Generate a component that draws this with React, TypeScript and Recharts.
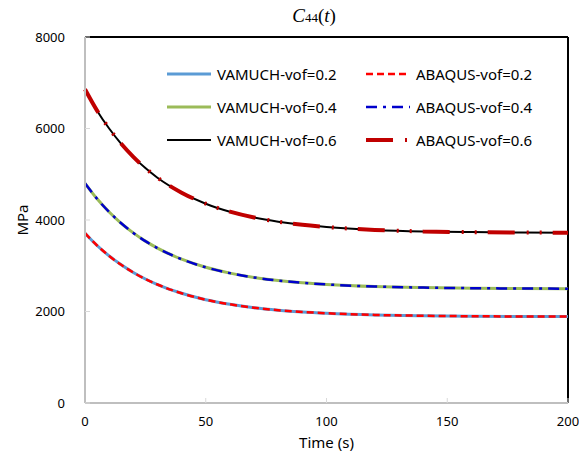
import React from 'react';
import { LineChart, Line, XAxis, YAxis, ReferenceLine, Label } from 'recharts';

const times = [0, 5, 10, 15, 20, 25, 30, 40, 50, 60, 70, 80, 90, 100, 120, 140, 160, 180, 200];
const vamuch02 = [3712, 3443, 3215, 3020, 2853, 2711, 2590, 2398, 2258, 2157, 2082, 2029, 1990, 1962, 1925, 1907, 1897, 1891, 1888];
const abaqus02 = [3712, 3443, 3215, 3020, 2853, 2711, 2590, 2398, 2258, 2157, 2082, 2029, 1990, 1962, 1925, 1907, 1897, 1891, 1888];
const vamuch04 = [4802, 4463, 4175, 3928, 3718, 3538, 3385, 3143, 2966, 2839, 2744, 2677, 2627, 2592, 2546, 2523, 2510, 2503, 2499];
const abaqus04 = [4802, 4463, 4175, 3928, 3718, 3538, 3385, 3143, 2966, 2839, 2744, 2677, 2627, 2592, 2546, 2523, 2510, 2503, 2499];
const vamuch06 = [6857, 6390, 6000, 5665, 5380, 5135, 4925, 4598, 4356, 4182, 4055, 3963, 3895, 3847, 3784, 3750, 3735, 3727, 3722];
const abaqus06 = [6857, 6390, 6000, 5665, 5380, 5135, 4925, 4598, 4356, 4182, 4055, 3963, 3895, 3847, 3784, 3750, 3735, 3727, 3722];

const xTicks = [0, 50, 100, 150, 200];
const yTicks = [0, 2000, 4000, 6000, 8000];

const data = times.map((t, i) => ({
  t,
  v02: vamuch02[i],
  a02: abaqus02[i],
  v04: vamuch04[i],
  a04: abaqus04[i],
  v06: vamuch06[i],
  a06: abaqus06[i],
}));

const series = [
  { key: 'v02', name: 'VAMUCH-vof=0.2', color: '#5B9BD5', width: 3, dash: undefined as string | undefined },
  { key: 'v04', name: 'VAMUCH-vof=0.4', color: '#9BBB59', width: 3, dash: undefined },
  { key: 'v06', name: 'VAMUCH-vof=0.6', color: '#000000', width: 2, dash: undefined },
  { key: 'a02', name: 'ABAQUS-vof=0.2', color: '#FF0000', width: 2.5, dash: '7 4' },
  { key: 'a04', name: 'ABAQUS-vof=0.4', color: '#0000CC', width: 2.5, dash: '11 6 3 6' },
  { key: 'a06', name: 'ABAQUS-vof=0.6', color: '#C00000', width: 4, dash: '27 12 2 11 2 11' },
];

const FONT = '"Noto Sans", "Open Sans", sans-serif';

const legendRows = [
  ['v02', 'a02'],
  ['v04', 'a04'],
  ['v06', 'a06'],
];

function LegendItem({ k, left, top }: { k: string; left: number; top: number }) {
  const s = series.find((x) => x.key === k)!;
  return (
    <div style={{ position: 'absolute', left, top, height: 20, display: 'flex', alignItems: 'center', whiteSpace: 'nowrap' }}>
      <svg width={46} height={20} style={{ display: 'block' }}>
        <line x1={1} y1={10} x2={45} y2={10} stroke={s.color} strokeWidth={s.width} strokeDasharray={s.dash} />
      </svg>
      <span style={{ marginLeft: 5, fontFamily: FONT, fontSize: 15, color: '#000', lineHeight: '20px' }}>{s.name}</span>
    </div>
  );
}

export default function App() {
  return (
    <div style={{ position: 'absolute', left: 0, top: 0, width: 579, height: 454, background: '#fff' }}>
      <LineChart width={579} height={454} data={data} margin={{ top: 37, right: 11, left: 0, bottom: 0 }}>
        <XAxis
          dataKey="t"
          type="number"
          domain={[0, 200]}
          ticks={xTicks}
          height={51}
          axisLine={{ stroke: '#BFBFBF', strokeWidth: 2 }}
          tickLine={{ stroke: '#D9D9D9', strokeWidth: 1 }}
          tickSize={-5}
          tickMargin={19}
          tick={{ fill: '#000', fontSize: 13, fontFamily: FONT }}
          interval={0}
        >
          <Label value="Time (s)" position="insideBottom" offset={6} style={{ fill: '#000', fontSize: 15, fontFamily: FONT }} />
        </XAxis>
        <YAxis
          type="number"
          domain={[0, 8000]}
          ticks={yTicks}
          width={85}
          axisLine={{ stroke: '#BFBFBF', strokeWidth: 2 }}
          tickLine={{ stroke: '#D9D9D9', strokeWidth: 1 }}
          tickSize={-5}
          tickMargin={25}
          tick={{ fill: '#000', fontSize: 13, fontFamily: FONT }}
          interval={0}
        >
          <Label value="MPa" position="insideLeft" angle={-90} offset={23} style={{ fill: '#000', fontSize: 15, fontFamily: FONT, textAnchor: 'middle' }} />
        </YAxis>
        <ReferenceLine y={8000} stroke="#000" strokeWidth={2} ifOverflow="extendDomain" />
        <ReferenceLine x={200} stroke="#000" strokeWidth={2} ifOverflow="extendDomain" />
        {series.map((s) => (
          <Line
            key={s.key}
            type="monotone"
            dataKey={s.key}
            name={s.name}
            stroke={s.color}
            strokeWidth={s.width}
            strokeDasharray={s.dash}
            dot={false}
            activeDot={false}
            isAnimationActive={false}
          />
        ))}
      </LineChart>
      <div
        style={{
          position: 'absolute',
          left: 0,
          width: 628,
          top: 3,
          textAlign: 'center',
          fontFamily: '"Liberation Serif", "DejaVu Serif", serif',
          fontSize: 19,
          color: '#000',
          lineHeight: '26px',
        }}
      >
        <span style={{ fontStyle: 'italic' }}>C</span>
        <span style={{ fontSize: 13 }}>44</span>
        <span>(</span>
        <span style={{ fontStyle: 'italic' }}>t</span>
        <span>)</span>
      </div>
      {legendRows.map((row, i) => (
        <React.Fragment key={i}>
          <LegendItem k={row[0]} left={166} top={64 + i * 33} />
          <LegendItem k={row[1]} left={365} top={64 + i * 33} />
        </React.Fragment>
      ))}
    </div>
  );
}
